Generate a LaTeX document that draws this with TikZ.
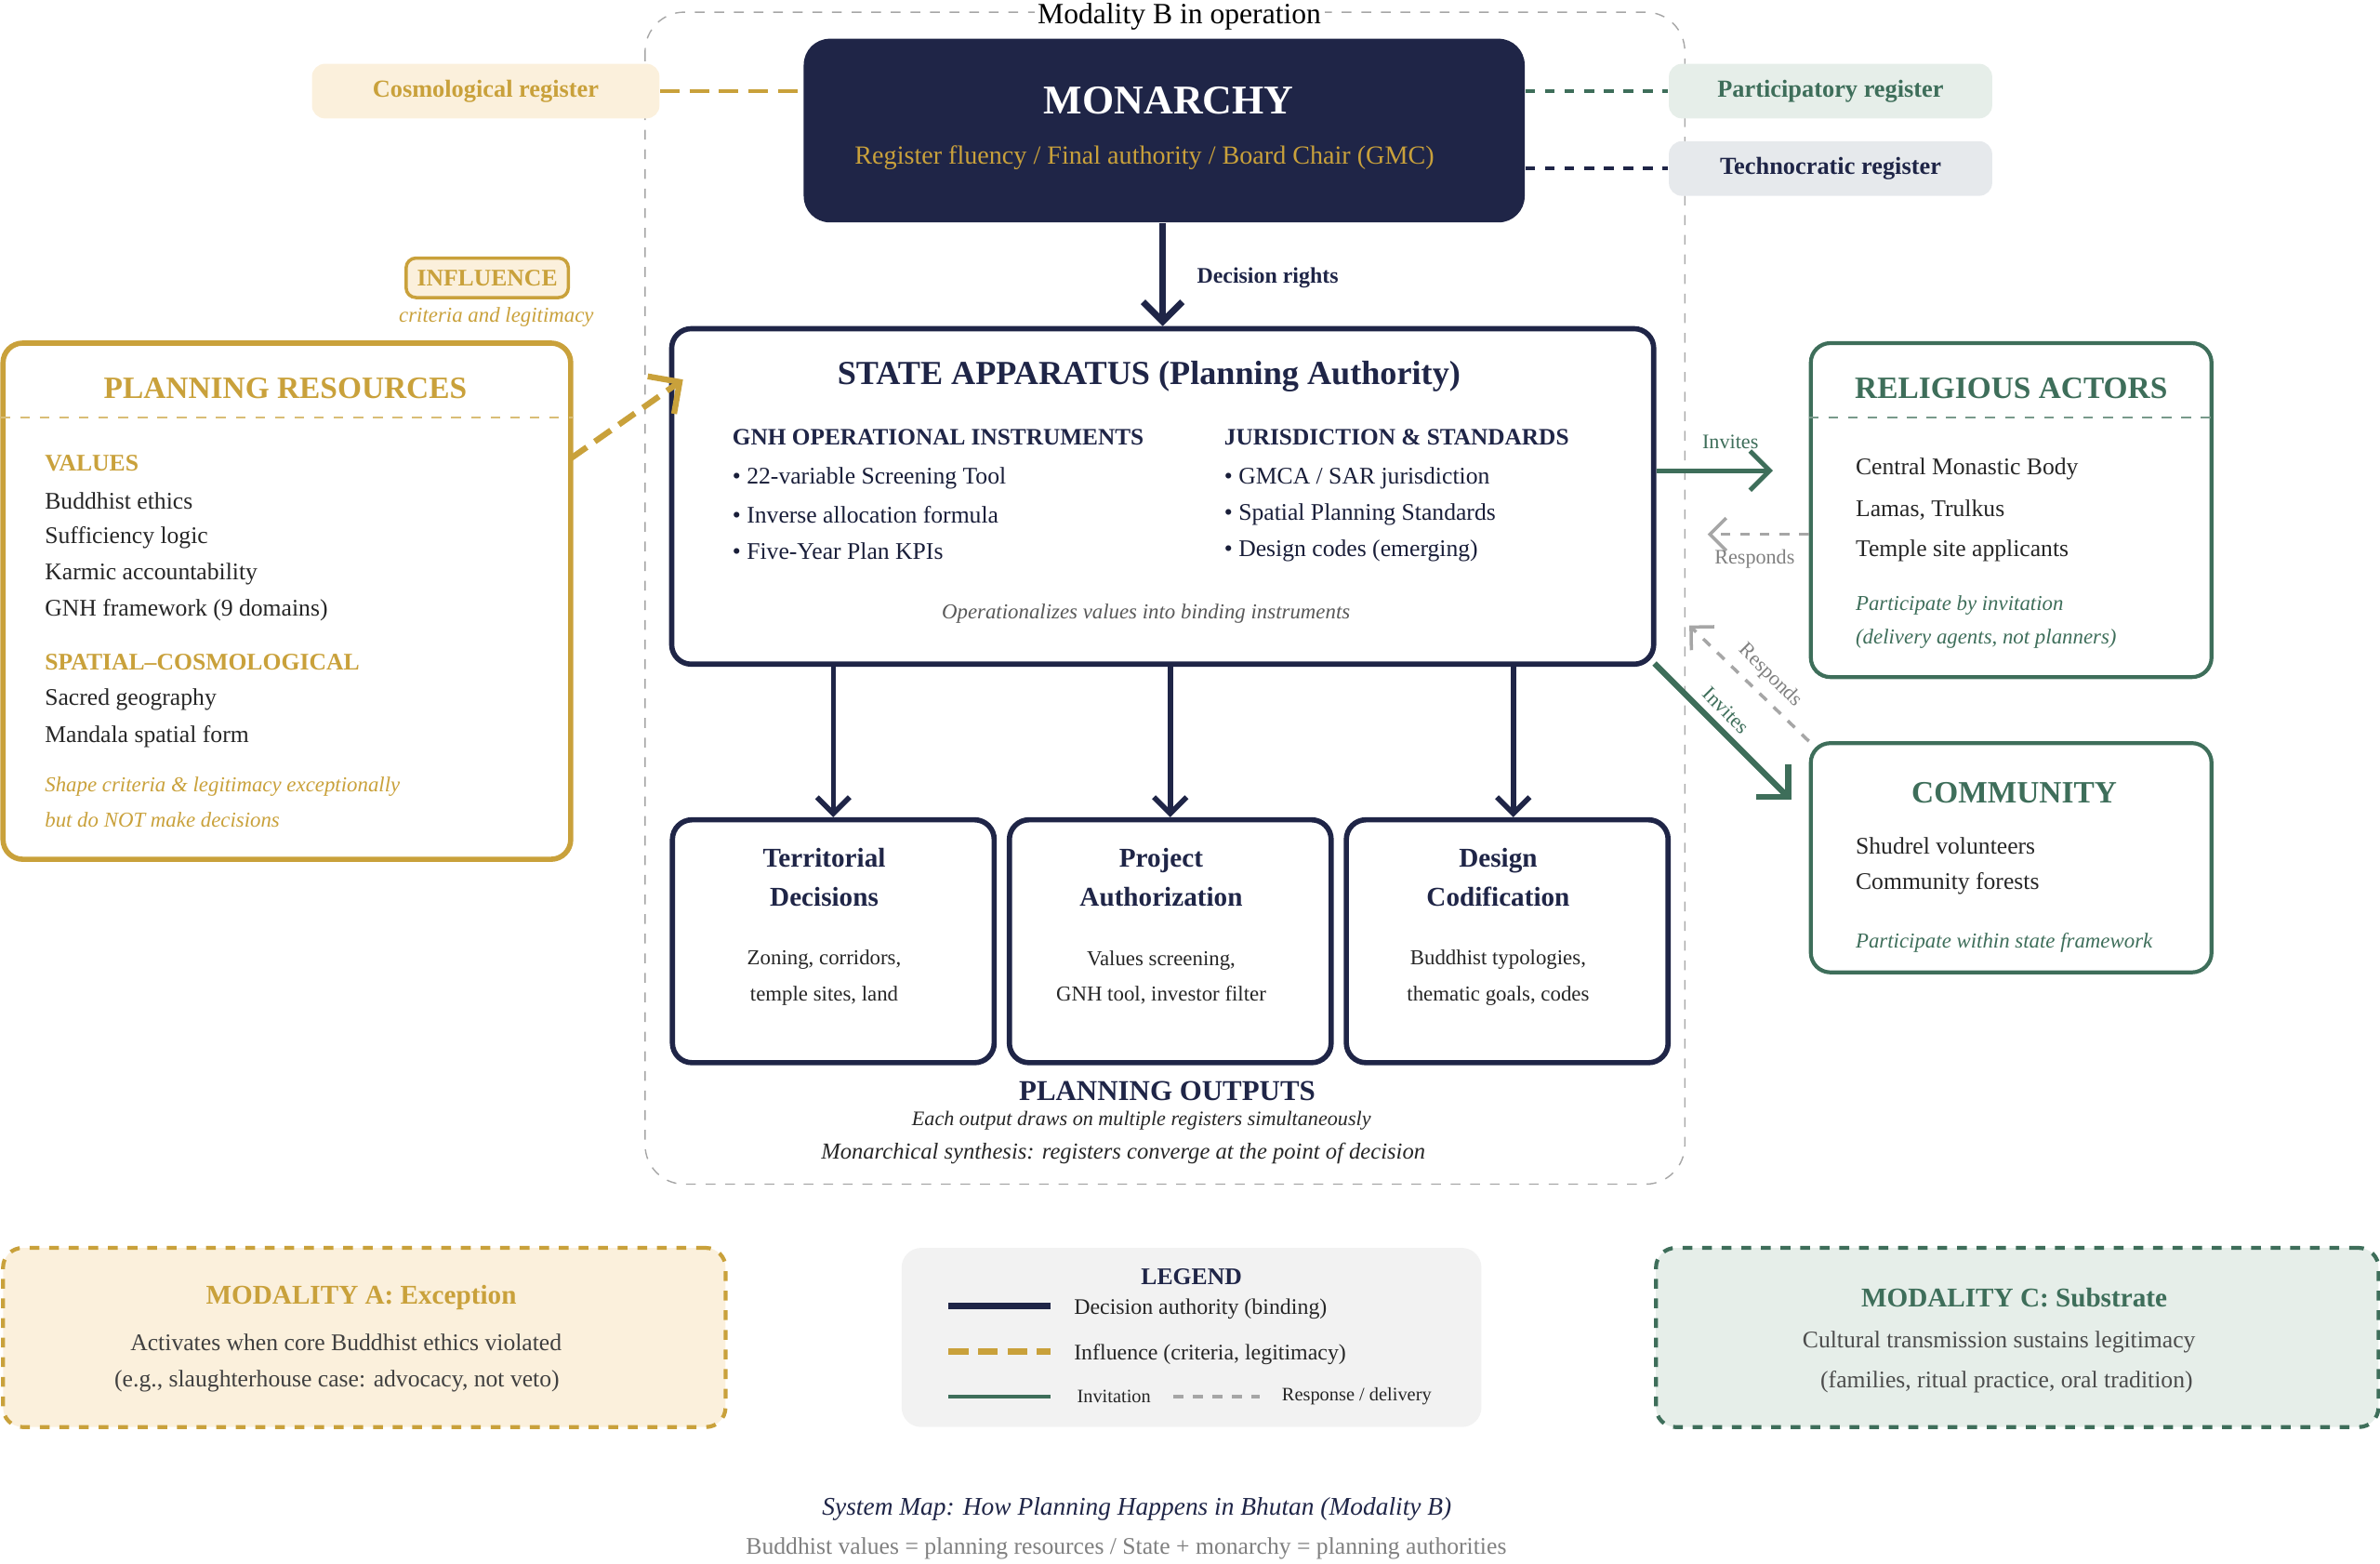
\documentclass[tikz,border=0pt]{standalone}
\usepackage{fontspec}
\setmainfont{Liberation Serif}
\usetikzlibrary{positioning,arrows.meta}
\definecolor{navy}{HTML}{1F2547}
\definecolor{gold}{HTML}{C9A13B}
\definecolor{goldbg}{HTML}{FBF0DC}
\definecolor{sage}{HTML}{3E6E5A}
\definecolor{sagebg}{HTML}{E6EEE9}
\definecolor{greybg}{HTML}{E6E9EC}
\tikzset{
  box/.style={draw=navy, line width=1.6pt, rounded corners=6pt, fill=white},
  goldbox/.style={draw=gold, line width=1.6pt, rounded corners=6pt},
  greenbox/.style={draw=sage, line width=1.2pt, rounded corners=6pt},
  reg/.style={rounded corners=4pt, minimum width=213*0.01633cm, minimum height=36*0.01633cm, font=\fontsize{7.5}{9}\selectfont\bfseries},
  txt/.style={font=\fontsize{7.3}{9}\selectfont, anchor=west},
  small/.style={font=\fontsize{6.3}{8}\selectfont},
  rule/.style={line width=1.6pt, navy, -{Straight Barb[length=5pt]}},
  longdash/.style={dash pattern=on 6pt off 3pt},
}
\begin{document}
\begin{tikzpicture}[x=0.01633cm, y=-0.01633cm]
\useasboundingbox (0,0) rectangle (1568,1030);
% frame of modality B
\draw[gray!70, dashed, rounded corners=12pt] (425,8) rectangle (1110,780);
\node[fill=white, inner sep=1pt, font=\fontsize{9}{10}\selectfont] (frame) at (777,11) {Modality B in operation};

% monarchy and registers
\node[fill=navy, rounded corners=8pt, minimum width=475*0.01633cm, minimum height=121*0.01633cm] (mon) at (767,86) {};
\node[white, font=\fontsize{12.5}{14}\selectfont\bfseries] (montitle) at (770,66) {MONARCHY};
\node[gold, font=\fontsize{8}{10}\selectfont] (monsub) at (754,104) {Register fluency / Final authority / Board Chair (GMC)};

\node[reg, fill=goldbg, text=gold, minimum width=229*0.01633cm] (cosmo) at (320,60) {Cosmological register};
\node[reg, fill=sagebg, text=sage] (partic) at (1206,60) {Participatory register};
\node[reg, fill=greybg, text=navy] (techno) at (1206,111) {Technocratic register};
\draw[gold, longdash, line width=1pt] (cosmo.east) -- (cosmo.east -| mon.west);
\draw[sage, dashed, line width=1pt] (partic.west -| mon.east) -- (partic.west);
\draw[navy, dashed, line width=1pt] (techno.west -| mon.east) -- (techno.west);

% state apparatus
\node[box, minimum width=647*0.01633cm, minimum height=221*0.01633cm] (state) at (766,327) {};
\draw[line width=2pt, navy, -{Straight Barb[length=6pt]}] (mon.south -| state.north) -- (state.north);
\node[font=\fontsize{6.8}{8}\selectfont\bfseries, navy, anchor=west] (drights) at (781,183) {Decision rights};
\node[font=\fontsize{10.3}{12}\selectfont\bfseries, navy] (statetitle) at (757,248) {STATE APPARATUS (Planning Authority)};
\node[txt, font=\fontsize{7.2}{9}\selectfont\bfseries, navy] (gnh) at (475,288) {GNH OPERATIONAL INSTRUMENTS};
\node[txt, font=\fontsize{7.2}{9}\selectfont\bfseries, navy] (jur) at (799,288) {JURISDICTION \& STANDARDS};
\node[txt, text=navy!80!black] (g1) at (475,315) {\textbullet{} 22-variable Screening Tool};
\node[txt, text=navy!80!black] (g2) at (475,339) {\textbullet{} Inverse allocation formula};
\node[txt, text=navy!80!black] (g3) at (475,363) {\textbullet{} Five-Year Plan KPIs};
\node[txt, text=navy!80!black] (j1) at (799,315) {\textbullet{} GMCA / SAR jurisdiction};
\node[txt, text=navy!80!black] (j2) at (799,339) {\textbullet{} Spatial Planning Standards};
\node[txt, text=navy!80!black] (j3) at (799,363) {\textbullet{} Design codes (emerging)};
\node[font=\fontsize{6.5}{8}\selectfont\itshape, gray!70!black] (oper) at (755,404) {Operationalizes values into binding instruments};

% planning resources
\node[goldbox, minimum width=374*0.01633cm, minimum height=340*0.01633cm] (res) at (189,396) {};
\node[gold, font=\fontsize{9.5}{11}\selectfont\bfseries] (restitle) at (188,256) {PLANNING RESOURCES};
\draw[gold!70, dashed] (res.west |- 0,275) -- (res.east |- 0,275);
\node[txt, gold, font=\fontsize{7.3}{9}\selectfont\bfseries] (values) at (22,305) {VALUES};
\foreach \t [count=\i] in {Buddhist ethics, Sufficiency logic, Karmic accountability, GNH framework (9 domains)}
  \node[txt, gray!30!black] (v\i) at (22,306+24*\i) {\t};
\node[txt, gold, font=\fontsize{7.3}{9}\selectfont\bfseries] (spatial) at (22,436) {SPATIAL--COSMOLOGICAL};
\node[txt, gray!30!black] (s1) at (22,461) {Sacred geography};
\node[txt, gray!30!black] (s2) at (22,485) {Mandala spatial form};
\node[txt, gold, font=\fontsize{6.5}{8}\selectfont\itshape] (s3) at (22,518) {Shape criteria \& legitimacy exceptionally};
\node[txt, gold, font=\fontsize{6.5}{8}\selectfont\itshape] (s4) at (22,540) {but do NOT make decisions};

\node[draw=gold, fill=goldbg, rounded corners=3pt, line width=1pt, text=gold, font=\fontsize{7.3}{9}\selectfont\bfseries, minimum width=101*0.01633cm, minimum height=26*0.01633cm] (infl) at (321,183) {INFLUENCE};
\node[gold, font=\fontsize{6.5}{8}\selectfont\itshape] (inflsub) at (327,209) {criteria and legitimacy};
\coordinate (resout) at (376,302);
\coordinate (statein) at (450,250);
\draw[gold, longdash, line width=1.8pt, -{Straight Barb[length=7pt]}] (resout) -- (statein);

% outputs
\foreach \n/\x/\a/\b/\c/\d in {terr/549/Territorial/Decisions/{Zoning, corridors,}/{temple sites, land},
  proj/771/Project/Authorization/{Values screening,}/{GNH tool, investor filter},
  design/993/Design/Codification/{Buddhist typologies,}/{thematic goals, codes}} {
  \node[box, minimum width=212*0.01633cm, minimum height=160*0.01633cm] (\n) at (\x,620) {};
  \node[navy, font=\fontsize{8.3}{10}\selectfont\bfseries, align=center] (\n t) at (\x-6,578) {\a\\[2pt]\b};
  \node[gray!30!black, font=\fontsize{6.5}{8}\selectfont, align=center] (\n s) at (\x-6,644) {\c\\[3pt]\d};
}
\draw[rule] (state.south -| 549,0) -- (terr.north -| 549,0);
\draw[rule] (state.south -| 771,0) -- (proj.north -| 771,0);
\draw[rule] (state.south -| 997,0) -- (design.north -| 997,0);
\node[navy, font=\fontsize{8.8}{10}\selectfont\bfseries] (outt) at (769,719) {PLANNING OUTPUTS};
\node[font=\fontsize{6.3}{8}\selectfont\itshape, gray!30!black] (out1) at (752,738) {Each output draws on multiple registers simultaneously};
\node[gray!30!black, font=\fontsize{7}{8}\selectfont\itshape] (out2) at (740,760) {Monarchical synthesis: registers converge at the point of decision};

% religious actors and community
\node[greenbox, minimum width=264*0.01633cm, minimum height=220*0.01633cm] (rel) at (1325,336) {};
\node[sage, font=\fontsize{9.5}{11}\selectfont\bfseries] (reltitle) at (1325,256) {RELIGIOUS ACTORS};
\draw[sage!70, dashed] (rel.west |- 0,275) -- (rel.east |- 0,275);
\node[txt, gray!30!black] (r1) at (1215,309) {Central Monastic Body};
\node[txt, gray!30!black] (r2) at (1215,336) {Lamas, Trulkus};
\node[txt, gray!30!black] (r3) at (1215,363) {Temple site applicants};
\node[txt, sage, font=\fontsize{6.5}{8}\selectfont\itshape] (r4) at (1215,399) {Participate by invitation};
\node[txt, sage, font=\fontsize{6.5}{8}\selectfont\itshape] (r5) at (1215,421) {(delivery agents, not planners)};

\node[greenbox, minimum width=264*0.01633cm, minimum height=151*0.01633cm] (comm) at (1325,565) {};
\node[sage, font=\fontsize{9.5}{11}\selectfont\bfseries] (commtitle) at (1327,522) {COMMUNITY};
\node[txt, gray!30!black] (c1) at (1215,557) {Shudrel volunteers};
\node[txt, gray!30!black] (c2) at (1215,582) {Community forests};
\node[txt, sage, font=\fontsize{6.5}{8}\selectfont\itshape] (c3) at (1215,621) {Participate within state framework};

\coordinate (relin) at (1168,310);
\draw[sage, line width=1.4pt, -{Straight Barb[length=6pt]}] (state.east |- relin) -- (relin);
\node[sage, small] (inv1) at (1140,291) {Invites};
\coordinate (resp1) at (1125,352);
\draw[gray!70, dashed, line width=1pt, -{Straight Barb[length=5pt]}] (rel.west |- resp1) -- (resp1);
\node[gray, small] (rsp1) at (1156,368) {Responds};
\coordinate (comin) at (1180,527);
\coordinate (stout) at (1090,437);
\draw[sage, line width=1.8pt, -{Straight Barb[length=7pt]}] (stout) -- (comin);
\node[sage, small, rotate=-45, inner sep=0pt] (inv2) at (1137,468) {Invites};
\coordinate (stin) at (1113,412);
\draw[gray!70, dashed, line width=1pt, -{Straight Barb[length=5pt]}] (comm.north west) -- (stin);
\node[gray, small, rotate=-45, inner sep=0pt] (rsp2) at (1166,445) {Responds};

% modalities and legend
\node[draw=gold, dashed, line width=1.2pt, fill=goldbg, rounded corners=6pt, minimum width=476*0.01633cm, minimum height=118*0.01633cm] (moda) at (240,881) {};
\node[gold, font=\fontsize{8.3}{10}\selectfont\bfseries] (modat) at (238,855) {MODALITY A: Exception};
\node[gray!50!black, font=\fontsize{7.3}{9}\selectfont] (moda1) at (228,884) {Activates when core Buddhist ethics violated};
\node[gray!50!black, font=\fontsize{7.3}{9}\selectfont] (moda2) at (222,910) {(e.g., slaughterhouse case: advocacy, not veto)};

\node[fill=gray!10, rounded corners=6pt, minimum width=382*0.01633cm, minimum height=118*0.01633cm] (legend) at (785,881) {};
\node[navy, font=\fontsize{7.3}{9}\selectfont\bfseries] (legt) at (785,841) {LEGEND};
\coordinate (l1a) at (625,860); \coordinate (l1b) at (692,860);
\coordinate (l2a) at (625,890); \coordinate (l2b) at (692,890);
\coordinate (l3a) at (625,920); \coordinate (l3b) at (692,920);
\coordinate (l4a) at (773,920); \coordinate (l4b) at (830,920);
\draw[navy, line width=2pt] (l1a) -- (l1b);
\draw[gold, longdash, line width=2pt] (l2a) -- (l2b);
\draw[sage, line width=1.2pt] (l3a) -- (l3b);
\draw[gray!70, dashed, line width=1pt] (l4a) -- (l4b);
\node[txt, gray!30!black, font=\fontsize{6.8}{8}\selectfont] (leg1) at (700,862) {Decision authority (binding)};
\node[txt, gray!30!black, font=\fontsize{6.8}{8}\selectfont] (leg2) at (700,892) {Influence (criteria, legitimacy)};
\node[txt, gray!30!black, font=\fontsize{5.8}{7}\selectfont] (leg3) at (702,920) {Invitation};
\node[txt, gray!30!black, font=\fontsize{5.8}{7}\selectfont] (leg4) at (837,920) {Response / delivery};

\node[draw=sage, dashed, line width=1.2pt, fill=sagebg, rounded corners=6pt, minimum width=476*0.01633cm, minimum height=118*0.01633cm] (modc) at (1329,881) {};
\node[sage, font=\fontsize{8.3}{10}\selectfont\bfseries] (modct) at (1327,855) {MODALITY C: Substrate};
\node[gray!60!black, font=\fontsize{7.3}{9}\selectfont] (modc1) at (1317,884) {Cultural transmission sustains legitimacy};
\node[gray!60!black, font=\fontsize{7.3}{9}\selectfont] (modc2) at (1322,910) {(families, ritual practice, oral tradition)};

% caption
\node[navy, font=\fontsize{7.8}{9}\selectfont\itshape] (cap1) at (749,994) {System Map: How Planning Happens in Bhutan (Modality B)};
\node[gray, font=\fontsize{7.3}{9}\selectfont] (cap2) at (742,1020) {Buddhist values = planning resources / State + monarchy = planning authorities};
\end{tikzpicture}
\end{document}
